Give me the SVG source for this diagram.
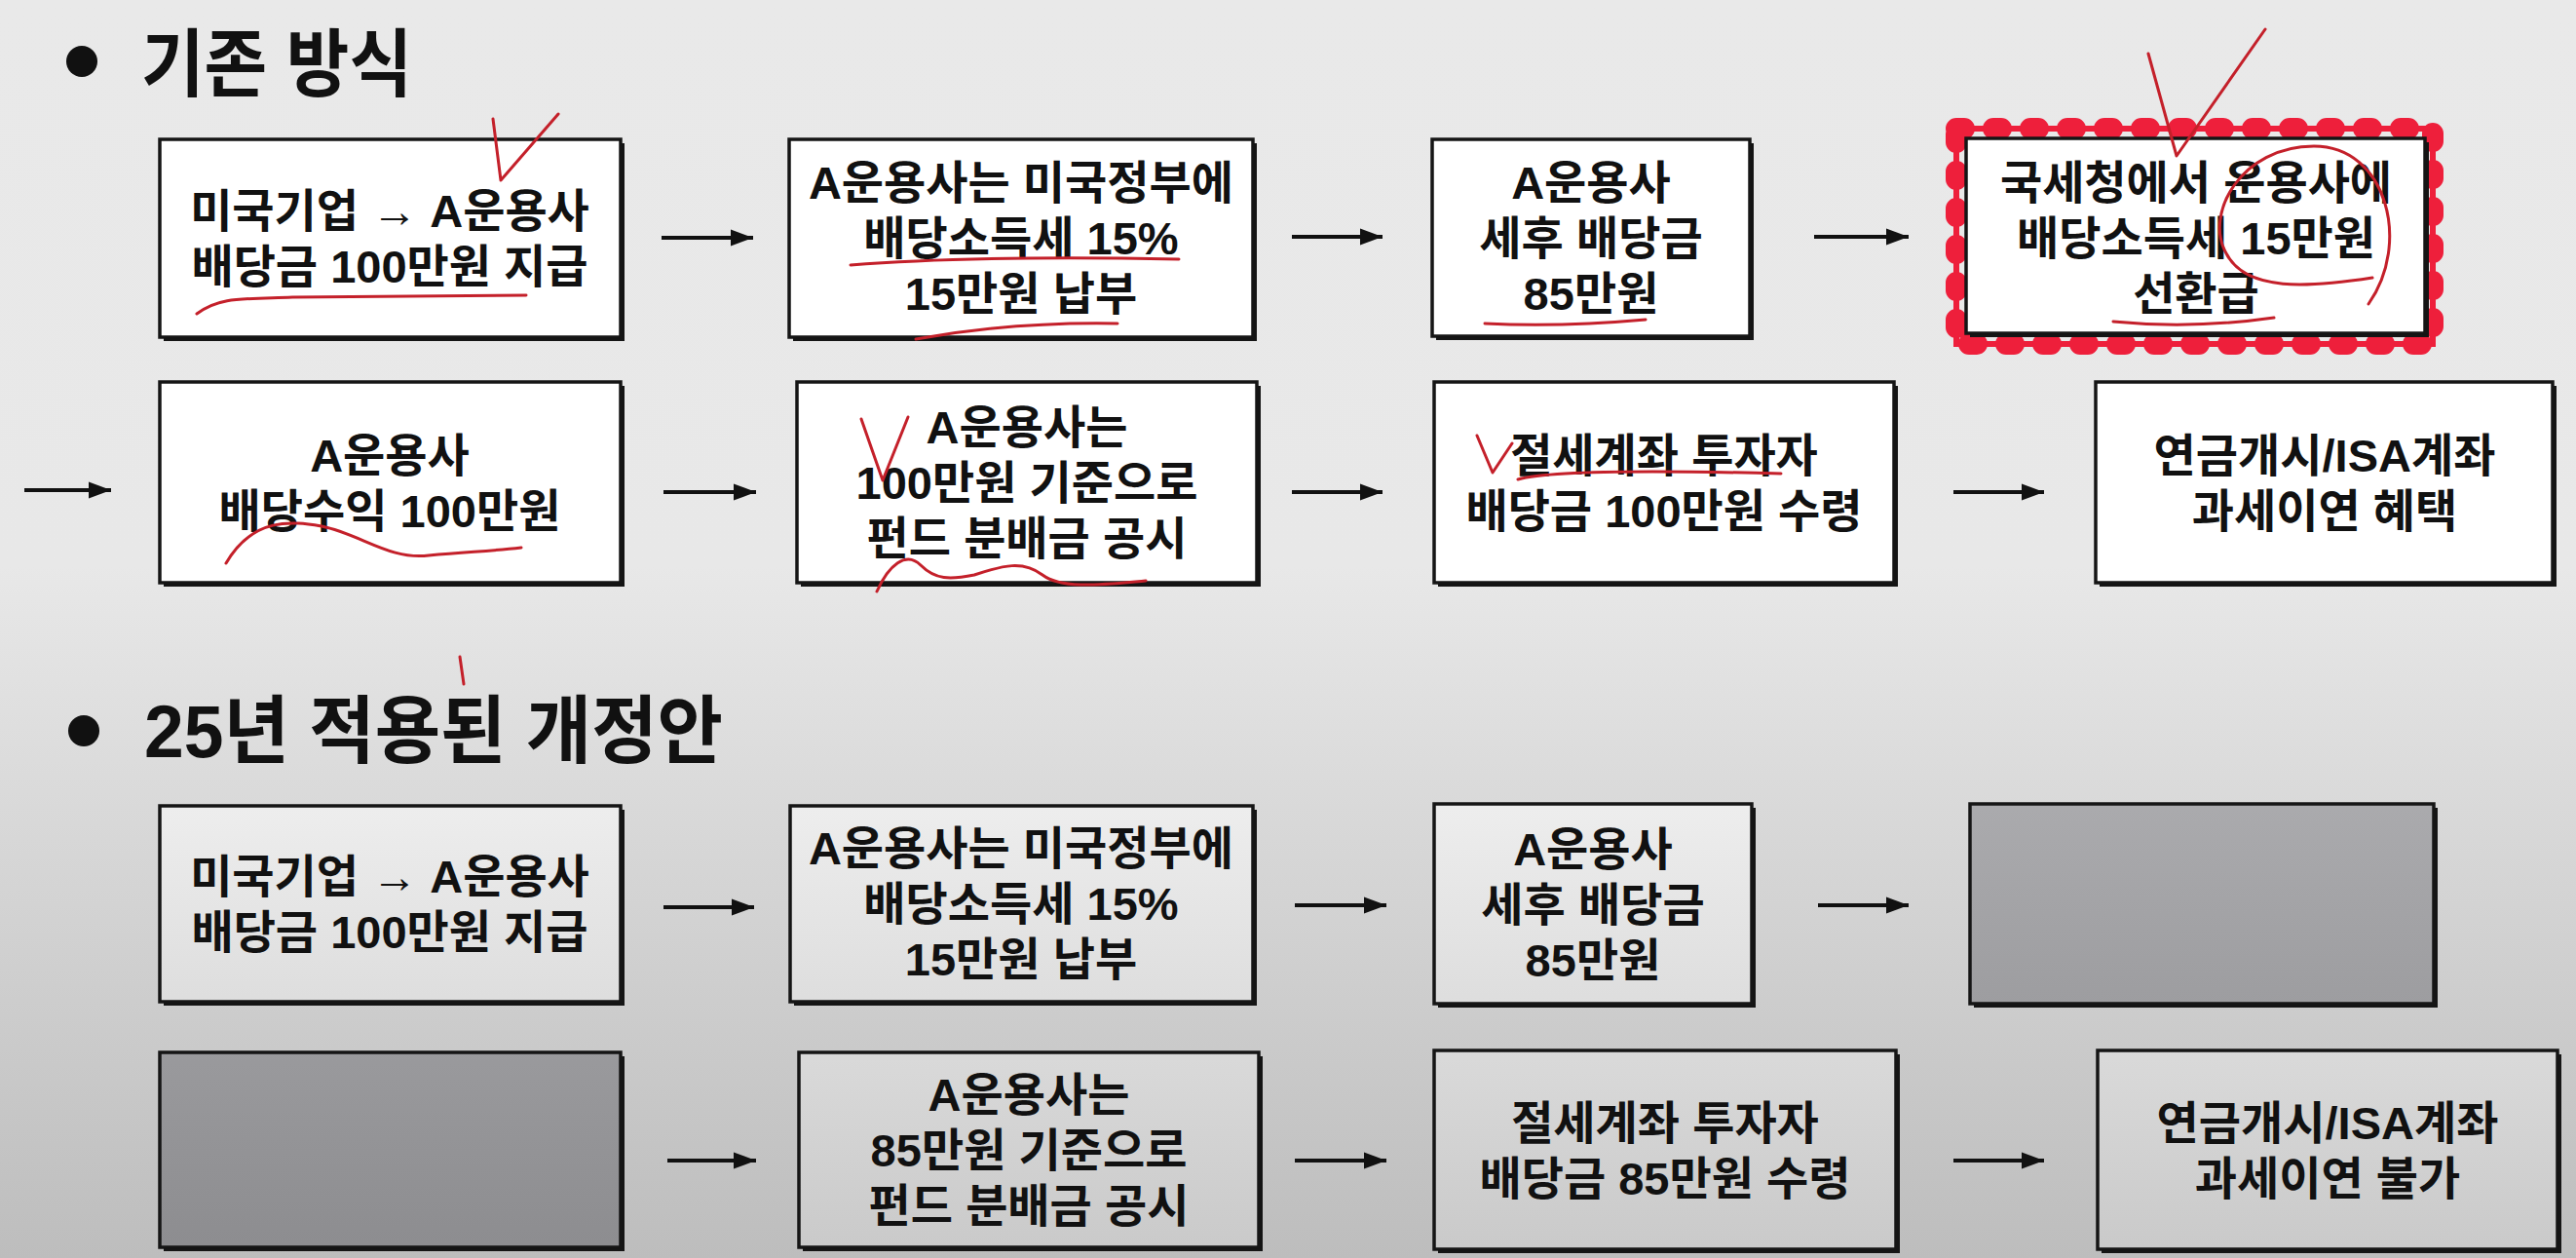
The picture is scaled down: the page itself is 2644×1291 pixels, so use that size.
<svg xmlns="http://www.w3.org/2000/svg" width="2644" height="1291" viewBox="0 0 2644 1291">
<style>
.sh{fill:#151515}
.bx{fill:#ffffff;stroke:#151515;stroke-width:3.5}
.bxl{fill:url(#wg);stroke:#151515;stroke-width:3.5}
.bxg{fill:url(#gg);stroke:#151515;stroke-width:3.5}
.t{font-family:"Liberation Sans","Noto Sans CJK KR",sans-serif;font-size:47px;font-weight:600;fill:#111;text-anchor:middle;dominant-baseline:central}
.h{font-family:"Liberation Sans","Noto Sans CJK KR",sans-serif;font-size:76px;font-weight:700;fill:#111;dominant-baseline:central}
.c{stroke:#111;stroke-width:4;fill:none;marker-end:url(#ah)}
.r{stroke:#c4202a;stroke-width:3;fill:none;stroke-linecap:round;stroke-linejoin:round}
</style>
<defs>
<linearGradient id="bg" gradientUnits="userSpaceOnUse" x1="0" y1="0" x2="0" y2="1291">
<stop offset="0" stop-color="#e9e9e9"/><stop offset="0.45" stop-color="#e8e8e8"/><stop offset="1" stop-color="#bdbdbd"/>
</linearGradient>
<linearGradient id="wg" gradientUnits="userSpaceOnUse" x1="0" y1="600" x2="0" y2="1291">
<stop offset="0" stop-color="#ffffff"/><stop offset="1" stop-color="#c9c9c9"/>
</linearGradient>
<linearGradient id="gg" gradientUnits="userSpaceOnUse" x1="0" y1="600" x2="0" y2="1291">
<stop offset="0" stop-color="#b9b9bc"/><stop offset="1" stop-color="#8c8c8f"/>
</linearGradient>
<marker id="ah" markerUnits="userSpaceOnUse" markerWidth="26" markerHeight="20" refX="23" refY="10" orient="auto">
<path d="M0,1.5 L23,10 L0,18.5 Z" fill="#111"/>
</marker>
</defs>
<rect x="0" y="0" width="2644" height="1291" fill="url(#bg)"/>

<g id="title1">
<circle cx="84" cy="63" r="16" fill="#111"/>
<text class="h" x="145" y="66" textLength="278" lengthAdjust="spacingAndGlyphs">기존 방식</text>
</g>
<g id="title2">
<circle cx="86" cy="750" r="16" fill="#111"/>
<text class="h" x="148" y="750" textLength="594" lengthAdjust="spacingAndGlyphs">25년 적용된 개정안</text>
</g>

<g id="connectors">
<line class="c" x1="679" y1="244" x2="773" y2="244"/>
<line class="c" x1="1326" y1="243" x2="1419" y2="243"/>
<line class="c" x1="1862" y1="243" x2="1959" y2="243"/>
<line class="c" x1="25" y1="503" x2="114" y2="503"/>
<line class="c" x1="681" y1="505" x2="776" y2="505"/>
<line class="c" x1="1326" y1="505" x2="1419" y2="505"/>
<line class="c" x1="2005" y1="505" x2="2098" y2="505"/>
<line class="c" x1="681" y1="931" x2="774" y2="931"/>
<line class="c" x1="1329" y1="929" x2="1423" y2="929"/>
<line class="c" x1="1866" y1="929" x2="1959" y2="929"/>
<line class="c" x1="685" y1="1191" x2="776" y2="1191"/>
<line class="c" x1="1329" y1="1191" x2="1423" y2="1191"/>
<line class="c" x1="2005" y1="1191" x2="2098" y2="1191"/>
</g>

<g id="n1">
<rect class="sh" x="168" y="147" width="473" height="203"/>
<rect class="bx" x="164" y="143" width="473" height="203"/>
<text class="t" x="400" y="216">미국기업 → A운용사<tspan x="400" dy="57">배당금 100만원 지급</tspan></text>
</g>
<g id="n2">
<rect class="sh" x="814" y="147" width="476" height="203"/>
<rect class="bx" x="810" y="143" width="476" height="203"/>
<text class="t" x="1048" y="187">A운용사는 미국정부에<tspan x="1048" dy="57">배당소득세 15%</tspan><tspan x="1048" dy="57">15만원 납부</tspan></text>
</g>
<g id="n3">
<rect class="sh" x="1474" y="147" width="326" height="202"/>
<rect class="bx" x="1470" y="143" width="326" height="202"/>
<text class="t" x="1633" y="187">A운용사<tspan x="1633" dy="57">세후 배당금</tspan><tspan x="1633" dy="57">85만원</tspan></text>
</g>
<g id="n4">
<rect x="2008" y="132" width="489" height="221" fill="none" stroke="#ee1f3b" stroke-width="6"/>
<rect x="2008" y="132" width="489" height="221" fill="none" stroke="#ee1f3b" stroke-width="22" stroke-linecap="round" stroke-dasharray="8 30"/>
<rect class="sh" x="2022" y="146" width="471" height="200"/>
<rect class="bx" x="2018" y="142" width="471" height="200"/>
<text class="t" x="2254" y="187">국세청에서 운용사에<tspan x="2254" dy="57">배당소득세 15만원</tspan><tspan x="2254" dy="57">선환급</tspan></text>
</g>
<g id="n5">
<rect class="sh" x="168" y="396" width="473" height="206"/>
<rect class="bx" x="164" y="392" width="473" height="206"/>
<text class="t" x="400" y="467">A운용사<tspan x="400" dy="57">배당수익 100만원</tspan></text>
</g>
<g id="n6">
<rect class="sh" x="822" y="396" width="472" height="206"/>
<rect class="bx" x="818" y="392" width="472" height="206"/>
<text class="t" x="1054" y="438">A운용사는<tspan x="1054" dy="57">100만원 기준으로</tspan><tspan x="1054" dy="57">펀드 분배금 공시</tspan></text>
</g>
<g id="n7">
<rect class="sh" x="1476" y="396" width="472" height="206"/>
<rect class="bx" x="1472" y="392" width="472" height="206"/>
<text class="t" x="1708" y="467">절세계좌 투자자<tspan x="1708" dy="57">배당금 100만원 수령</tspan></text>
</g>
<g id="n8">
<rect class="sh" x="2155" y="396" width="469" height="206"/>
<rect class="bx" x="2151" y="392" width="469" height="206"/>
<text class="t" x="2386" y="467">연금개시/ISA계좌<tspan x="2386" dy="57">과세이연 혜택</tspan></text>
</g>

<g id="n9">
<rect class="sh" x="168" y="831" width="473" height="201"/>
<rect class="bxl" x="164" y="827" width="473" height="201"/>
<text class="t" x="400" y="899">미국기업 → A운용사<tspan x="400" dy="57">배당금 100만원 지급</tspan></text>
</g>
<g id="n10">
<rect class="sh" x="815" y="831" width="475" height="201"/>
<rect class="bxl" x="811" y="827" width="475" height="201"/>
<text class="t" x="1048" y="870">A운용사는 미국정부에<tspan x="1048" dy="57">배당소득세 15%</tspan><tspan x="1048" dy="57">15만원 납부</tspan></text>
</g>
<g id="n11">
<rect class="sh" x="1476" y="829" width="326" height="205"/>
<rect class="bxl" x="1472" y="825" width="326" height="205"/>
<text class="t" x="1635" y="871">A운용사<tspan x="1635" dy="57">세후 배당금</tspan><tspan x="1635" dy="57">85만원</tspan></text>
</g>
<g id="n12">
<rect class="sh" x="2026" y="829" width="476" height="205"/>
<rect class="bxg" x="2022" y="825" width="476" height="205"/>
</g>
<g id="n13">
<rect class="sh" x="168" y="1084" width="473" height="200"/>
<rect class="bxg" x="164" y="1080" width="473" height="200"/>
</g>
<g id="n14">
<rect class="sh" x="824" y="1084" width="472" height="200"/>
<rect class="bxl" x="820" y="1080" width="472" height="200"/>
<text class="t" x="1056" y="1123">A운용사는<tspan x="1056" dy="57">85만원 기준으로</tspan><tspan x="1056" dy="57">펀드 분배금 공시</tspan></text>
</g>
<g id="n15">
<rect class="sh" x="1476" y="1082" width="474" height="204"/>
<rect class="bxl" x="1472" y="1078" width="474" height="204"/>
<text class="t" x="1709" y="1152">절세계좌 투자자<tspan x="1709" dy="57">배당금 85만원 수령</tspan></text>
</g>
<g id="n16">
<rect class="sh" x="2157" y="1082" width="472" height="204"/>
<rect class="bxl" x="2153" y="1078" width="472" height="204"/>
<text class="t" x="2389" y="1152">연금개시/ISA계좌<tspan x="2389" dy="57">과세이연 불가</tspan></text>
</g>

<g id="annotations">
<path class="r" d="M506,122 L514,185 L573,117"/>
<path class="r" d="M202,322 C225,305 245,307 300,305 L540,303"/>
<path class="r" d="M873,272 Q1000,262 1210,266"/>
<path class="r" d="M940,348 Q1040,330 1147,332"/>
<path class="r" d="M1524,332 Q1600,336 1689,328"/>
<path class="r" d="M2205,55 L2234,160 L2325,30"/>
<path class="r" d="M2431,312 C2475,250 2450,150 2375,150 C2300,150 2262,220 2285,260 C2305,300 2370,295 2435,285"/>
<path class="r" d="M2169,330 Q2250,338 2334,326"/>
<path class="r" d="M232,578 C260,530 300,535 330,540 C370,548 400,575 440,570 C480,566 500,566 535,562"/>
<path class="r" d="M884,430 L906,493 L932,428"/>
<path class="r" d="M900,607 C912,580 930,565 945,580 C960,595 975,595 1000,590 C1030,580 1050,575 1070,590 C1090,605 1130,600 1176,596"/>
<path class="r" d="M1516,447 L1532,485 L1552,455"/>
<path class="r" d="M1558,492 Q1600,480 1828,486"/>
<path class="r" d="M472,674 L476,702"/>
</g>
</svg>
